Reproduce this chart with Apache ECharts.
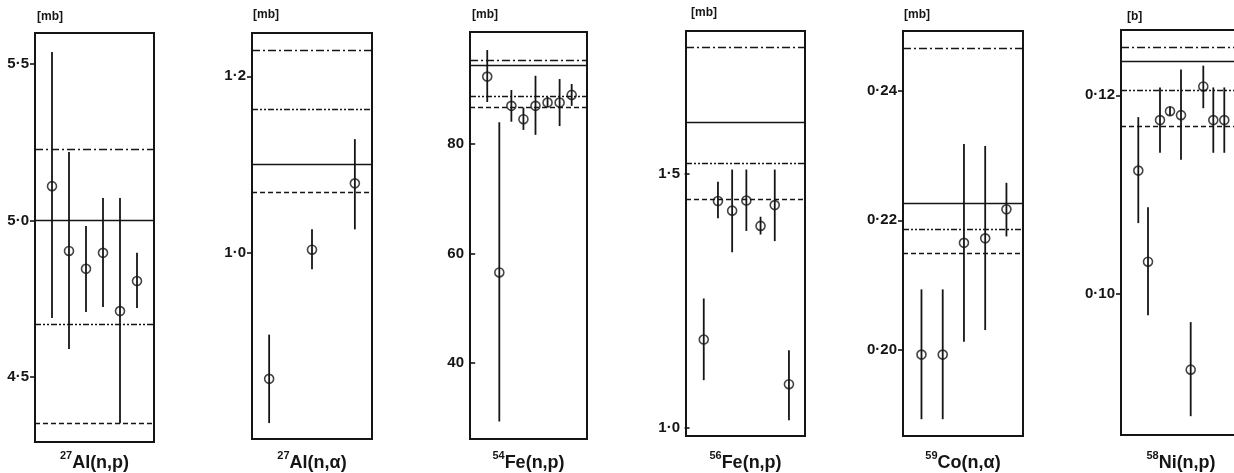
<!DOCTYPE html>
<html><head><meta charset="utf-8">
<script src="https://cdn.jsdelivr.net/npm/echarts@6/dist/echarts.min.js"></script>
<style>html,body{margin:0;padding:0;background:#fff}#c{width:1234px;height:473px}</style>
</head><body><div id="c"></div><script>
// ---------- data ----------
const isotopes = ['27', '27', '54', '56', '59', '58'];
const reactions = ['Al(n,p)', 'Al(n,α)', 'Fe(n,p)', 'Fe(n,p)', 'Co(n,α)', 'Ni(n,p)'];
const units = ['[mb]', '[mb]', '[mb]', '[mb]', '[mb]', '[b]'];

// 27Al(n,p)
const alNpX = [1, 2, 3, 4, 5, 6];
const alNpY = [5.110, 4.903, 4.846, 4.897, 4.711, 4.807];
const alNpLo = [4.689, 4.590, 4.708, 4.724, 4.353, 4.721];
const alNpHi = [5.538, 5.219, 4.983, 5.072, 5.072, 4.897];
const alNpRef = [5.0, 4.353, 5.229, 4.670];          // solid, dashed, dash-dot, dash-dot-dot
const alNpTicks = [4.5, 5.0, 5.5];
const alNpRange = [4.293, 5.599];

// 27Al(n,alpha)
const alNaX = [1, 2, 3];
const alNaY = [0.858, 1.004, 1.079];
const alNaLo = [0.808, 0.982, 1.027];
const alNaHi = [0.908, 1.027, 1.129];
const alNaRef = [1.1006, 1.0686, 1.229, 1.163];
const alNaTicks = [1.0, 1.2];
const alNaRange = [0.790, 1.249];

// 54Fe(n,p)
const fe54X = [1, 2, 3, 4, 5, 6, 7, 8];
const fe54Y = [92.35, 56.55, 87.0, 84.56, 87.0, 87.6, 87.6, 89.0];
const fe54Lo = [87.7, 29.3, 84.1, 82.6, 81.7, 86.8, 83.3, 87.0];
const fe54Hi = [97.2, 84.0, 89.9, 86.7, 92.5, 88.6, 91.9, 91.0];
const fe54Ref = [94.4, 86.8, 95.4, 88.7];
const fe54Ticks = [40, 60, 80];
const fe54Range = [26.1, 100.5];

// 56Fe(n,p)
const fe56X = [1, 2, 3, 4, 5, 6, 7];
const fe56Y = [1.174, 1.447, 1.428, 1.448, 1.398, 1.439, 1.086];
const fe56Lo = [1.094, 1.413, 1.346, 1.388, 1.381, 1.368, 1.015];
const fe56Hi = [1.255, 1.485, 1.509, 1.509, 1.416, 1.509, 1.153];
const fe56Ref = [1.603, 1.450, 1.749, 1.521];
const fe56Ticks = [1.0, 1.5];
const fe56Range = [0.984, 1.782];

// 59Co(n,alpha)
const coX = [1, 2, 3, 4, 5];
const coY = [0.1992, 0.1992, 0.2165, 0.2172, 0.2217];
const coLo = [0.1892, 0.1892, 0.2012, 0.2030, 0.2175];
const coHi = [0.2093, 0.2093, 0.2318, 0.2315, 0.2258];
const coRef = [0.2226, 0.2149, 0.2466, 0.2186];
const coTicks = [0.20, 0.22, 0.24];
const coRange = [0.1866, 0.2493];

// 58Ni(n,p)
const niX = [1.73, 2.7, 3.9, 4.9, 6.0, 6.97, 8.23, 9.23, 10.33];
const niY = [0.1124, 0.1032, 0.1175, 0.1184, 0.1180, 0.0923, 0.1209, 0.1175, 0.1175];
const niLo = [0.1071, 0.0978, 0.1142, 0.11795, 0.1135, 0.0876, 0.1187, 0.1142, 0.1142];
const niHi = [0.1178, 0.1087, 0.1208, 0.11885, 0.1226, 0.0971, 0.1230, 0.1208, 0.1208];
const niRef = [0.1234, 0.1169, 0.1249, 0.1205];
const niTicks = [0.10, 0.12];
const niRange = [0.0857, 0.1266];

// ---------- layout / style ----------
const panels = [
  {x: alNpX, y: alNpY, lo: alNpLo, hi: alNpHi, ref: alNpRef, ticks: alNpTicks, range: alNpRange, dec: 1,
   box: {left: 35, top: 33, width: 119, height: 409}, xr: [0, 7], unitX: 37, unitY: 17},
  {x: alNaX, y: alNaY, lo: alNaLo, hi: alNaHi, ref: alNaRef, ticks: alNaTicks, range: alNaRange, dec: 1,
   box: {left: 252, top: 33, width: 120, height: 406}, xr: [0.6, 3.4], unitX: 253, unitY: 15},
  {x: fe54X, y: fe54Y, lo: fe54Lo, hi: fe54Hi, ref: fe54Ref, ticks: fe54Ticks, range: fe54Range, dec: 0,
   box: {left: 470, top: 32, width: 117, height: 407}, xr: [-0.43, 9.27], unitX: 472, unitY: 15},
  {x: fe56X, y: fe56Y, lo: fe56Lo, hi: fe56Hi, ref: fe56Ref, ticks: fe56Ticks, range: fe56Range, dec: 1,
   box: {left: 686, top: 31, width: 119, height: 405}, xr: [-0.25, 8.13], unitX: 691, unitY: 13},
  {x: coX, y: coY, lo: coLo, hi: coHi, ref: coRef, ticks: coTicks, range: coRange, dec: 2,
   box: {left: 903, top: 31, width: 120, height: 405}, xr: [0.13, 5.78], unitX: 904, unitY: 15},
  {x: niX, y: niY, lo: niLo, hi: niHi, ref: niRef, ticks: niTicks, range: niRange, dec: 2,
   box: {left: 1121, top: 30, width: 120, height: 405}, xr: [0, 12], unitX: 1127, unitY: 17}
];

const INK = '#151515';
const refStyles = [
  {type: 'solid'},
  {type: [5, 3]},
  {type: [8, 3, 2, 3]},
  {type: [6, 2, 2, 2, 2, 2]}
];
const FONT = 'Liberation Sans, Arial, sans-serif';

const grid = [], xAxis = [], yAxis = [], series = [], graphic = [];
panels.forEach((p, i) => {
  grid.push(Object.assign({show: true, borderColor: INK, borderWidth: 2, backgroundColor: 'transparent',
    containLabel: false, outerBoundsMode: 'none'}, p.box));
  xAxis.push({type: 'value', gridIndex: i, min: p.xr[0], max: p.xr[1], show: false});
  yAxis.push({
    type: 'value', gridIndex: i, min: p.range[0], max: p.range[1],
    axisLine: {show: false},
    splitLine: {show: false},
    axisTick: {show: true, customValues: p.ticks, length: 5, lineStyle: {color: INK, width: 1.6}},
    axisLabel: {show: true, customValues: p.ticks, margin: 6, color: INK, fontWeight: 'bold', fontSize: 15, fontFamily: FONT,
      formatter: v => Number(v).toFixed(p.dec).replace('.', '·')}
  });
  series.push({
    type: 'custom', xAxisIndex: i, yAxisIndex: i, silent: true, z: 3,
    data: p.x.map((x, k) => [x, p.lo[k], p.hi[k]]),
    encode: {x: 0, y: [1, 2]},
    renderItem: (params, api) => {
      const a = api.coord([api.value(0), api.value(1)]);
      const b = api.coord([api.value(0), api.value(2)]);
      return {type: 'line', shape: {x1: a[0], y1: a[1], x2: b[0], y2: b[1]}, style: {stroke: INK, lineWidth: 1.8}};
    }
  });
  series.push({
    type: 'scatter', xAxisIndex: i, yAxisIndex: i, silent: true, z: 4,
    symbol: 'circle', symbolSize: 9,
    itemStyle: {color: 'rgba(0,0,0,0)', borderColor: INK, borderWidth: 1.6},
    data: p.x.map((x, k) => [x, p.y[k]]),
    markLine: {
      silent: true, symbol: ['none', 'none'], label: {show: false}, animation: false, precision: 6,
      data: p.ref.map((v, k) => ({yAxis: v, lineStyle: Object.assign({color: INK, width: 1.4}, refStyles[k])}))
    }
  });
  graphic.push({
    type: 'text', x: p.unitX, y: p.unitY,
    style: {text: units[i], font: 'bold 12px ' + FONT, fill: INK, align: 'left', verticalAlign: 'middle'}
  });
  graphic.push({
    type: 'text', x: p.box.left + p.box.width / 2, y: 461,
    style: {
      text: '{s|' + isotopes[i] + '}{m|' + reactions[i] + '}',
      align: 'center', verticalAlign: 'middle', fill: INK,
      rich: {
        s: {font: 'bold 11px ' + FONT, fill: INK, verticalAlign: 'top', lineHeight: 22},
        m: {font: 'bold 18px ' + FONT, fill: INK, verticalAlign: 'bottom', lineHeight: 22}
      }
    }
  });
});

const chart = echarts.init(document.getElementById('c'));
chart.setOption({animation: false, backgroundColor: '#fff', grid, xAxis, yAxis, series, graphic});
</script></body></html>
